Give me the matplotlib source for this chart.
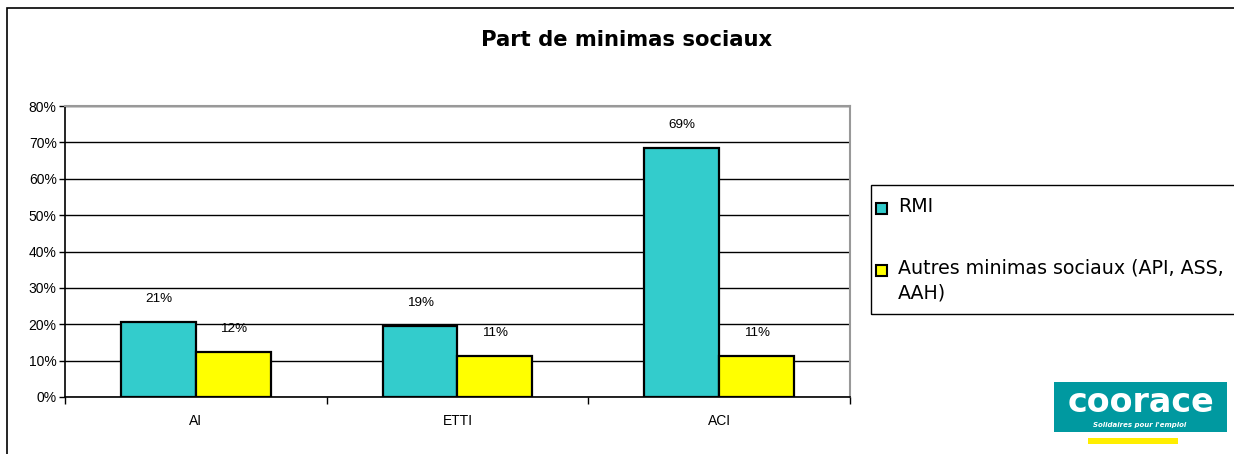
import matplotlib.pyplot as plt
import numpy as np
from matplotlib.patches import Rectangle

categories = ["AI", "ETTI", "ACI"]
rmi = [0.207, 0.195, 0.685]
autres = [0.123, 0.112, 0.112]
rmi_labels = ["21%", "19%", "69%"]
autres_labels = ["12%", "11%", "11%"]
series_names = ["RMI", "Autres minimas sociaux (API, ASS,\nAAH)"]
series_colors = ["#33cccc", "#ffff00"]

W, H = 1234, 454
fig = plt.figure(figsize=(W / 100, H / 100), dpi=100)

# outer frame (cut at right/bottom like the source)
fig.patches.append(Rectangle((7 / W, -0.1), 1.2, (H - 8) / H + 0.1, transform=fig.transFigure,
                             fill=False, edgecolor="black", linewidth=1.2))

ax = fig.add_axes([65 / W, (H - 397) / H, (850 - 65) / W, (397 - 106) / H])

x = np.arange(len(categories))
w = 0.286
ax.bar(x - w / 2, rmi, w, color=series_colors[0], edgecolor="black", linewidth=1.6, zorder=3)
ax.bar(x + w / 2, autres, w, color=series_colors[1], edgecolor="black", linewidth=1.6, zorder=3)

for xi, v, t in zip(x - w / 2, rmi, rmi_labels):
    ax.text(xi, v + 0.063, t, ha="center", va="center", fontsize=9.7, family="Liberation Sans")
for xi, v, t in zip(x + w / 2, autres, autres_labels):
    ax.text(xi, v + 0.063, t, ha="center", va="center", fontsize=9.7, family="Liberation Sans")

ax.set_xlim(-0.5, 2.5)
ax.set_ylim(0, 0.8)
ax.set_yticks(np.arange(0, 0.81, 0.1))
ax.set_yticklabels(["%d%%" % round(v * 100) for v in np.arange(0, 0.81, 0.1)],
                   fontsize=10, family="Liberation Sans")
ax.set_xticks(x)
ax.set_xticklabels(categories, fontsize=10, family="Liberation Sans")
ax.tick_params(axis="x", length=0, pad=12)
ax.set_xticks([-0.5, 0.5, 1.5, 2.5], minor=True)
ax.tick_params(axis="x", which="minor", length=5, width=1, color="black")
ax.tick_params(axis="y", length=4, width=1, color="black", pad=2)
ax.grid(axis="y", color="black", linewidth=1, zorder=0)
for s in ["top", "right"]:
    ax.spines[s].set_color("#999999")
    ax.spines[s].set_linewidth(1.5)
ax.spines["left"].set_linewidth(1.2)
ax.spines["bottom"].set_linewidth(1.2)

fig.text(627 / W, (H - 40) / H, "Part de minimas sociaux", ha="center", va="center",
         fontsize=15.2, fontweight="bold", family="DejaVu Sans")

# legend box (extends past right edge), drawn by hand
fig.patches.append(Rectangle((871 / W, (H - 314) / H), 1.0, 129 / H, transform=fig.transFigure,
                             fill=False, edgecolor="black", linewidth=1))
for yc, name, col in zip([208, 270], series_names, series_colors):
    fig.patches.append(Rectangle((876 / W, (H - yc - 6) / H), 11 / W, 11 / H,
                                 transform=fig.transFigure, facecolor=col,
                                 edgecolor="black", linewidth=1.5))
    fig.text(898 / W, (H - yc + 11) / H, name, ha="left", va="top",
             fontsize=13.7, family="DejaVu Sans", linespacing=1.35)

# logo
fig.patches.append(Rectangle((1054 / W, (H - 432) / H), 173 / W, 50 / H, transform=fig.transFigure,
                             facecolor="#0099a0", edgecolor="none"))
fig.text(1141 / W, (H - 403) / H, "coorace", ha="center", va="center", color="white",
         fontsize=24, fontweight="bold", family="DejaVu Sans")
fig.text(1140 / W, (H - 425) / H, "Solidaires pour l'emploi", ha="center", va="center",
         color="white", fontsize=5, style="italic", fontweight="bold")
fig.patches.append(Rectangle((1088 / W, (H - 444) / H), 90 / W, 6 / H, transform=fig.transFigure,
                             facecolor="#ffee00", edgecolor="none"))

fig.savefig("out.png", dpi=100)
